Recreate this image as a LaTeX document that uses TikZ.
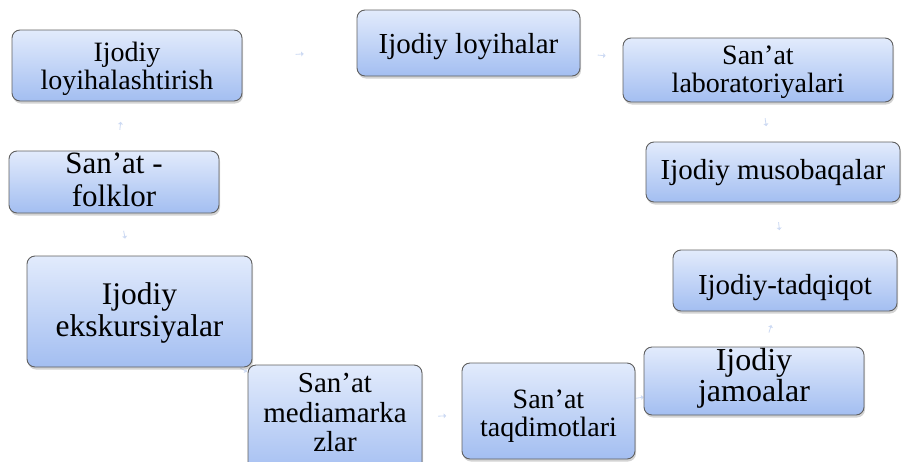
\documentclass[tikz,border=0pt]{standalone}
\usepackage{fontspec}
\setmainfont{Liberation Serif}
\usepackage{tikz}
\usetikzlibrary{shapes,shadows,backgrounds}
\definecolor{BoxTop}{RGB}{226,235,252}
\definecolor{BoxBottom}{RGB}{163,190,241}
\definecolor{BoxEdge}{RGB}{95,95,95}
\definecolor{LinkBlue}{RGB}{205,218,243}

\begin{document}
\begin{tikzpicture}[x=1pt,y=-1pt,
  box/.style={rectangle, rounded corners=8pt, draw=BoxEdge, line width=0.9pt, top color=BoxTop, bottom color=BoxBottom, align=center, inner sep=2pt, drop shadow={shadow xshift=1pt, shadow yshift=-2.5pt, opacity=0.35}},
  txt/.style 2 args={font=\fontsize{#1}{#2}\selectfont},
  base/.style 2 args={text height=#1pt, text depth=#2pt},
  link/.style={single arrow, fill=LinkBlue, draw=none, inner sep=0pt, minimum height=8pt, minimum width=5pt, single arrow head extend=1pt, sloped}]
\clip (0,0) rectangle (902,461);
      \node[box, txt={28}{27.5}, base={47}{0}, minimum width=230pt, minimum height=71pt] (Loyihalash) at (127,65.5) {Ijodiy\\loyihalashtirish};
      \node[box, txt={29}{29}, base={20}{0}, minimum width=223pt, minimum height=66pt] (Loyihalar) at (468.5,43) {Ijodiy loyihalar};
      \node[box, txt={28}{28.5}, base={45}{0}, minimum width=270pt, minimum height=64pt] (Laboratoriya) at (758,70) {San’at\\laboratoriyalari};
      \node[box, txt={29}{29}, base={14}{0}, minimum width=254pt, minimum height=60pt] (Musobaqa) at (773,172) {Ijodiy musobaqalar};
      \node[box, txt={29}{29}, base={27}{0}, minimum width=224pt, minimum height=61pt] (Tadqiqot) at (785,280.5) {Ijodiy-tadqiqot};
      \node[box, txt={32}{31}, base={41}{0}, minimum width=220pt, minimum height=68pt] (Jamoa) at (754,381) {Ijodiy\\jamoalar};
      \node[box, txt={28}{28}, base={50}{0}, minimum width=173pt, minimum height=96pt] (Taqdimot) at (548.5,411) {San’at\\taqdimotlari};
      \node[box, txt={31.5}{32}, base={50}{0}, minimum width=225pt, minimum height=111pt] (Ekskursiya) at (139.5,311.5) {Ijodiy\\ekskursiyalar};
      \node[box, txt={29}{29.5}, base={61}{0}, minimum width=174pt, minimum height=112pt] (Media) at (335,421) {San’at\\mediamarka\\zlar};
      \node[box, txt={31}{33}, base={49}{0}, minimum width=210pt, minimum height=62pt] (Folklor) at (114,182) {San’at -\\folklor};
    \begin{scope}[on background layer]
      \path (Loyihalar) -- node[link] {} (Laboratoriya);
      \path (Laboratoriya) -- node[link] {} (Musobaqa);
      \path (Musobaqa) -- node[link] {} (Tadqiqot);
      \path (Tadqiqot) -- node[link] {} (Jamoa);
      \path (Jamoa) -- node[link] {} (Taqdimot);
      \path (Taqdimot) -- node[link] {} (Media);
      \path (Media) -- node[link] {} (Ekskursiya);
      \path (Ekskursiya) -- node[link] {} (Folklor);
      \path (Folklor) -- node[link] {} (Loyihalash);
      \path (Loyihalash) -- node[link] {} (Loyihalar);
    \end{scope}
\end{tikzpicture}
\end{document}
